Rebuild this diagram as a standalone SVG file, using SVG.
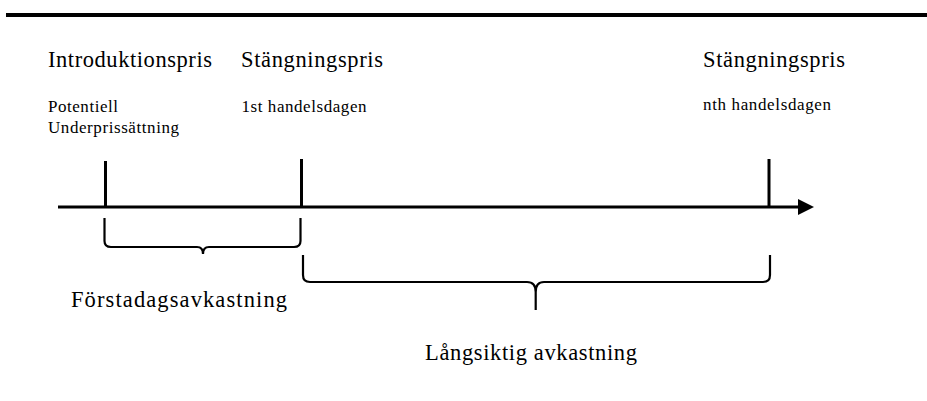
<svg xmlns="http://www.w3.org/2000/svg" width="927" height="401" viewBox="0 0 927 401">
<style>
text{font-family:"Liberation Serif","Times New Roman",serif;fill:#000}
.big{font-size:22.5px}
.small{font-size:17px}
.ln{stroke:#000;stroke-width:3;fill:none}
.br{stroke:#000;stroke-width:2.2;fill:none}
</style>
<defs>
<marker id="arr" markerWidth="16" markerHeight="16" viewBox="0 0 16 16" refX="1" refY="8" orient="auto" markerUnits="userSpaceOnUse">
<path d="M0,0 L16,8 L0,16 Z" fill="#000"/>
</marker>
</defs>
<rect x="6" y="13" width="921" height="4" fill="#000"/>
<g id="connectors">
<line class="ln" x1="58" y1="207" x2="799" y2="207" marker-end="url(#arr)"/>
<line class="ln" x1="105.5" y1="161" x2="105.5" y2="207"/>
<line class="ln" x1="301.5" y1="159" x2="301.5" y2="207"/>
<line class="ln" x1="769" y1="159" x2="769" y2="207"/>
<path class="br" d="M104.5,218 V241 Q104.5,247 111,247 H197 Q203,247 203,254 Q203,247 209,247 H294 Q300.5,247 300.5,241 V218"/>
<path class="br" d="M303,255 V275 Q303,282 310,282 H527 Q535.7,282 535.7,292 V310 M535.7,292 Q535.7,282 544,282 H763 Q770,282 770,275 V255"/>
</g>
<g id="intro">
<text class="big" x="48" y="66.5" textLength="164" lengthAdjust="spacing">Introduktionspris</text>
<text class="small" x="48" y="111.5" textLength="70" lengthAdjust="spacing">Potentiell</text>
<text class="small" x="48" y="133" textLength="131" lengthAdjust="spacing">Underprissättning</text>
</g>
<g id="close1">
<text class="big" x="241" y="66.5" textLength="142" lengthAdjust="spacing">Stängningspris</text>
<text class="small" x="241.5" y="111.5" textLength="125" lengthAdjust="spacing">1st handelsdagen</text>
</g>
<g id="closeN">
<text class="big" x="703" y="66.5" textLength="142" lengthAdjust="spacing">Stängningspris</text>
<text class="small" x="703" y="110" textLength="128" lengthAdjust="spacing">nth handelsdagen</text>
</g>
<g id="first-day">
<text class="big" x="71" y="306.5" textLength="216" lengthAdjust="spacing">Förstadagsavkastning</text>
</g>
<g id="long-term">
<text class="big" x="425" y="360" textLength="212" lengthAdjust="spacing">Långsiktig avkastning</text>
</g>
</svg>
